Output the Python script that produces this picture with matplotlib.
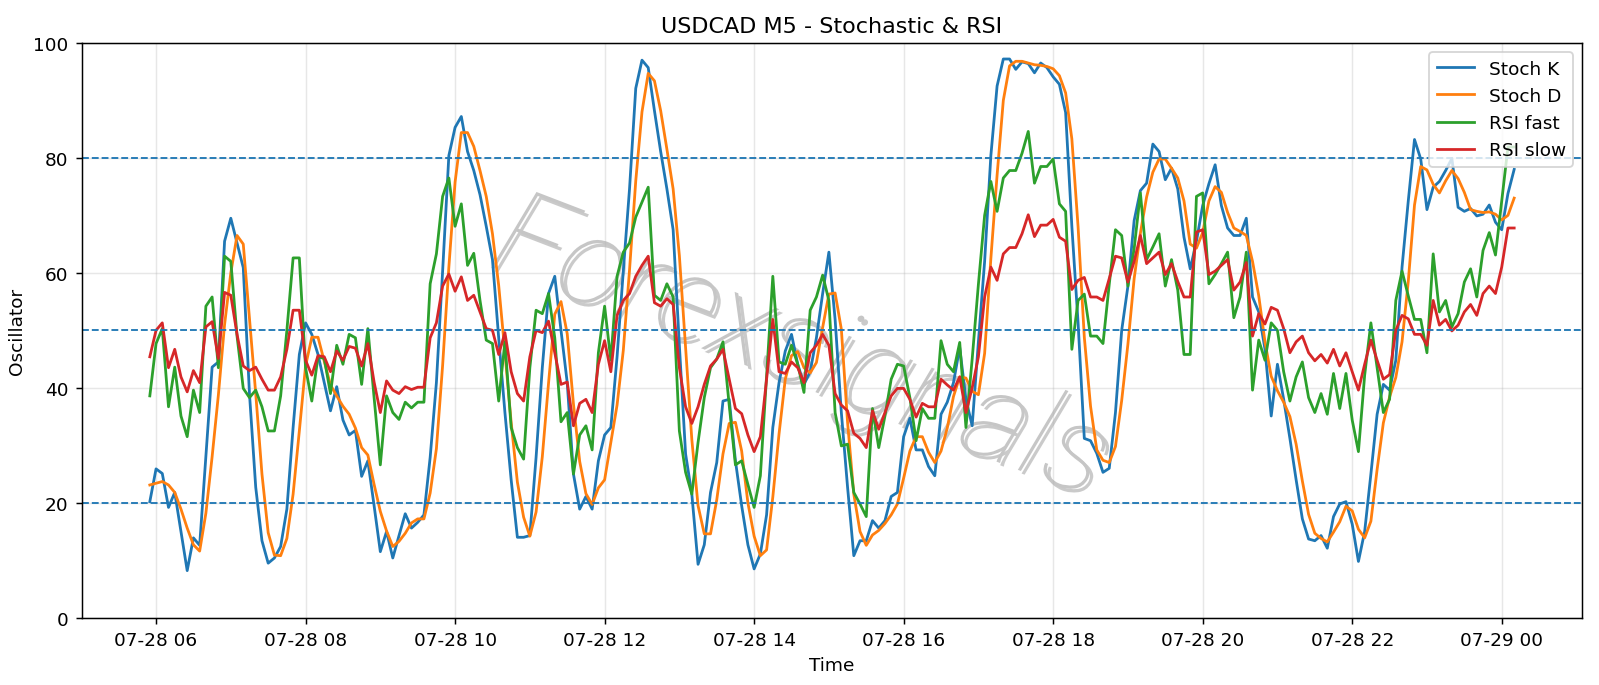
import matplotlib
matplotlib.use("Agg")
import matplotlib.pyplot as plt
import matplotlib.dates as mdates
import matplotlib.patheffects as pe
import pandas as pd

# 5 minute bars, 07-28 05:55 -> 07-29 00:10
times = pd.date_range("2025-07-28 05:55", periods=220, freq="5min")

stoch_k = [
    20.2, 25.9, 25.1, 19.2, 21.8, 15.0, 8.2, 13.9, 12.6, 28.0, 43.6, 44.5, 65.5, 69.5, 65.2, 60.9, 38.9, 22.7,
    13.4, 9.5, 10.4, 12.4, 18.9, 33.1, 45.8, 51.3, 49.3, 45.8, 40.9, 36.0, 40.2, 34.4, 31.8, 32.6, 24.6, 27.3,
    19.5, 11.5, 15.0, 10.4, 14.3, 18.1, 15.6, 16.6, 17.9, 27.9, 40.9, 60.3, 80.4, 85.3, 87.2, 81.1, 77.8, 73.6,
    68.1, 62.3, 48.7, 35.7, 24.0, 14.0, 14.0, 14.3, 27.9, 43.5, 56.4, 59.4, 50.0, 40.9, 25.0, 18.9, 21.1, 18.9, 27.3,
    31.8, 33.1, 45.4, 60.3, 74.6, 92.1, 97.0, 95.7, 88.2, 81.1, 74.6, 67.5, 47.4, 28.5, 21.5, 9.3, 12.7, 21.8,
    27.0, 37.7, 38.0, 27.3, 19.5, 12.7, 8.5, 11.1, 17.9, 33.1, 40.9, 46.4, 49.3, 44.1, 40.6, 42.8, 48.7, 56.4, 63.6,
    51.9, 35.7, 22.7, 10.8, 13.4, 13.4, 16.9, 15.6, 16.9, 21.1, 21.8, 31.5, 34.7, 29.2, 29.2, 26.3, 24.7, 35.4,
    37.5, 40.9, 47.0, 38.0, 33.4, 48.0, 62.0, 80.4, 92.5, 97.2, 97.2, 95.4, 96.7, 96.4, 94.8, 96.5, 95.7, 94.1, 92.8,
    87.9, 68.1, 51.3, 31.2, 30.8, 28.6, 25.3, 26.0, 35.7, 50.0, 57.7, 69.1, 74.3, 75.6, 82.4, 81.1, 76.2, 78.2,
    74.6, 66.2, 60.7, 65.5, 71.7, 75.5, 78.8, 71.7, 67.8, 66.5, 66.5, 69.5, 55.8, 53.2, 46.7, 35.1, 44.1, 38.0, 31.2,
    24.0, 17.2, 13.7, 13.4, 14.3, 12.1, 17.6, 19.8, 20.2, 16.3, 9.8, 15.0, 25.0, 35.4, 40.6, 39.6, 44.8, 61.0,
    72.5, 83.2, 79.8, 71.0, 74.9, 75.9, 77.8, 79.9, 71.4, 70.7, 71.2, 69.9, 70.2, 71.8, 68.8, 67.5, 73.8, 78.0,
]

stoch_d = [
    23.1, 23.4, 23.7, 23.1, 21.8, 18.9, 15.6, 12.7, 11.6, 18.2, 28.0, 38.7, 51.0, 60.0, 66.5, 65.0, 52.0, 39.0,
    25.0, 14.8, 10.9, 10.8, 13.8, 21.5, 32.5, 43.8, 48.8, 48.8, 44.6, 40.5, 38.6, 36.8, 35.4, 33.0, 29.6, 28.3,
    23.2, 18.5, 15.1, 12.4, 13.3, 14.7, 16.5, 17.2, 17.2, 21.7, 29.4, 43.9, 61.0, 75.8, 84.4, 84.4, 82.0, 77.8,
    73.3, 66.8, 57.8, 46.2, 34.0, 23.6, 17.5, 14.2, 18.4, 28.0, 40.8, 52.8, 55.0, 49.4, 37.2, 27.2, 21.6, 19.7, 22.6,
    24.0, 30.5, 37.0, 46.5, 60.5, 76.0, 88.0, 94.7, 93.4, 88.2, 81.5, 74.6, 63.0, 47.0, 31.0, 19.5, 14.6, 14.6,
    20.5, 28.5, 33.8, 34.0, 29.0, 20.0, 14.2, 10.8, 11.8, 21.0, 32.0, 41.5, 45.6, 46.3, 43.5, 42.6, 44.4, 50.5, 56.3,
    56.5, 50.2, 34.0, 21.5, 15.0, 12.6, 14.4, 15.2, 16.4, 17.9, 19.8, 24.3, 29.0, 31.5, 31.5, 28.8, 27.0, 29.0,
    33.0, 38.5, 41.9, 41.7, 39.4, 38.8, 46.0, 62.5, 77.0, 90.0, 96.0, 96.8, 96.8, 96.5, 96.2, 96.1, 95.9, 95.5, 94.3,
    91.3, 83.3, 68.0, 48.8, 36.8, 29.2, 27.4, 27.0, 29.8, 37.8, 47.6, 59.0, 66.9, 73.2, 77.5, 79.8, 79.8, 78.2,
    76.5, 72.5, 65.0, 64.3, 67.0, 72.5, 75.0, 74.0, 70.5, 67.8, 67.2, 66.5, 62.0, 56.0, 48.0, 42.0, 39.5, 37.5, 35.0,
    30.2, 23.8, 18.0, 14.7, 13.8, 13.2, 14.9, 16.7, 19.4, 18.6, 15.4, 13.9, 16.8, 25.8, 33.9, 38.4, 41.8, 48.0,
    58.5, 71.8, 78.5, 77.9, 75.4, 73.9, 76.0, 77.8, 76.4, 74.0, 71.0, 70.7, 70.5, 70.6, 70.2, 69.2, 70.0, 73.0,
]

rsi_fast = [
    38.6, 47.7, 50.3, 36.7, 43.6, 35.1, 31.5, 39.6, 35.7, 54.2, 55.8, 43.5, 62.9, 62.0, 49.0, 39.9, 38.3, 39.6,
    36.7, 32.5, 32.5, 38.6, 50.0, 62.6, 62.6, 43.5, 37.7, 45.4, 45.1, 39.0, 47.4, 44.1, 49.3, 48.7, 40.6, 50.3,
    38.3, 26.6, 38.6, 35.7, 34.5, 37.5, 36.5, 37.5, 37.5, 58.1, 63.3, 73.3, 76.5, 68.1, 72.0, 61.3, 63.4, 55.2,
    48.3, 47.7, 37.7, 48.0, 33.1, 29.6, 27.6, 43.5, 53.5, 52.9, 56.4, 48.7, 34.1, 35.7, 25.0, 31.8, 33.4, 29.2, 46.1,
    54.2, 44.8, 59.4, 63.6, 65.2, 69.7, 72.3, 74.9, 56.1, 55.2, 58.1, 55.8, 32.5, 25.3, 21.5, 30.5, 38.3, 43.5,
    45.0, 48.0, 37.0, 26.6, 27.3, 23.2, 19.2, 24.7, 42.0, 59.4, 44.5, 44.1, 47.4, 44.1, 39.2, 53.5, 55.8, 59.6, 55.2,
    35.7, 29.9, 30.2, 21.8, 19.8, 17.6, 36.4, 29.6, 35.1, 41.5, 44.1, 43.8, 38.3, 30.8, 36.4, 34.7, 34.7, 48.2,
    44.1, 42.8, 47.9, 33.1, 45.0, 58.0, 70.0, 75.9, 70.7, 76.5, 77.8, 77.8, 80.8, 84.6, 75.6, 78.5, 78.5, 79.8, 72.0,
    70.7, 46.7, 55.2, 56.3, 49.0, 49.0, 47.7, 58.0, 67.5, 66.5, 57.7, 64.2, 73.9, 62.3, 64.5, 66.8, 57.7, 62.3,
    57.0, 45.8, 45.8, 73.3, 73.9, 58.1, 59.7, 61.6, 63.6, 52.2, 55.8, 63.6, 39.6, 48.3, 44.8, 51.3, 50.0, 42.8, 37.7,
    41.9, 44.5, 38.3, 35.7, 39.0, 35.4, 42.5, 36.4, 42.5, 34.4, 28.9, 42.2, 51.3, 43.5, 35.7, 38.0, 55.2, 60.3,
    56.0, 51.9, 51.9, 46.1, 63.3, 53.2, 55.2, 50.6, 52.9, 58.4, 60.7, 55.8, 63.9, 67.0, 63.1, 72.5, 81.9, 81.9,
]

rsi_slow = [
    45.4, 50.0, 51.3, 43.5, 46.7, 41.9, 39.3, 43.0, 40.9, 50.6, 51.5, 45.1, 56.6, 56.1, 49.3, 43.8, 43.0, 43.6,
    41.5, 39.6, 39.6, 41.9, 46.7, 53.5, 53.5, 44.8, 42.2, 45.6, 45.4, 42.8, 46.4, 44.8, 47.2, 46.9, 43.8, 47.7,
    41.0, 35.7, 41.2, 39.6, 39.0, 40.2, 39.7, 40.1, 40.1, 48.7, 51.3, 57.7, 59.8, 56.8, 59.3, 55.2, 56.1, 53.2,
    50.3, 50.0, 45.8, 49.6, 42.8, 39.0, 37.7, 45.4, 50.0, 49.6, 51.6, 46.1, 40.6, 41.0, 33.4, 37.3, 38.0, 35.7, 44.1,
    48.2, 42.8, 52.6, 55.2, 56.4, 59.4, 61.3, 62.9, 54.8, 54.2, 55.5, 54.5, 43.5, 36.7, 33.8, 36.7, 40.6, 43.8,
    45.0, 46.7, 41.5, 36.4, 35.5, 31.8, 28.9, 31.5, 41.5, 51.9, 42.8, 42.5, 44.5, 43.5, 40.9, 46.1, 47.4, 49.3, 47.4,
    39.0, 37.0, 36.0, 32.1, 31.2, 29.6, 36.0, 32.8, 35.7, 38.6, 39.9, 39.9, 38.0, 34.9, 37.3, 36.7, 36.7, 41.5,
    40.5, 39.6, 41.9, 35.7, 40.0, 45.4, 55.8, 61.0, 58.7, 63.3, 64.4, 64.4, 66.8, 70.1, 66.3, 68.3, 68.3, 69.3, 66.2,
    65.5, 57.1, 58.7, 59.2, 55.8, 55.8, 55.2, 59.0, 62.9, 62.6, 58.4, 62.0, 66.5, 61.6, 62.6, 63.6, 59.7, 61.6,
    58.5, 55.8, 55.8, 67.1, 67.5, 59.7, 60.3, 61.3, 62.3, 57.0, 58.4, 61.8, 49.0, 52.9, 51.1, 54.0, 53.5, 50.3, 46.1,
    48.0, 49.0, 46.1, 44.7, 45.8, 44.3, 46.7, 43.8, 46.1, 42.8, 39.6, 44.1, 48.3, 44.8, 41.5, 42.3, 50.0, 52.6,
    52.0, 49.3, 49.3, 47.4, 55.2, 50.9, 51.9, 49.9, 50.9, 53.2, 54.5, 52.6, 56.4, 57.7, 56.4, 61.0, 67.8, 67.8,
]

levels = [80, 50, 20]

fig = plt.figure(figsize=(12, 5.145), dpi=133.333)
ax = fig.add_subplot(1, 1, 1)

ax.plot(times, stoch_k, label="Stoch K")
ax.plot(times, stoch_d, label="Stoch D")
ax.plot(times, rsi_fast, label="RSI fast")
ax.plot(times, rsi_slow, label="RSI slow")
for lv in levels:
    ax.axhline(lv, linestyle="--", linewidth=1, color="tab:blue")

ax.set_ylim(0, 100)
ax.set_title("USDCAD M5 - Stochastic & RSI")
ax.set_xlabel("Time")
ax.set_ylabel("Oscillator")
ax.grid(True, alpha=0.3)
ax.xaxis.set_major_locator(mdates.HourLocator(interval=2))
ax.xaxis.set_major_formatter(mdates.DateFormatter("%m-%d %H"))
ax.legend(loc="upper right")

# watermark: thin light grey letters with a soft shadow, under the lines
ax.text(0.479, 0.464, "Forexsignals", transform=ax.transAxes, fontsize=66,
        family=["Roboto", "DejaVu Sans"], fontweight=100, style="italic",
        color="#c6c6c6", rotation=-21, ha="center", va="center", zorder=1,
        path_effects=[pe.SimplePatchShadow(offset=(2, -2), shadow_rgbFace="#a8a8a8", alpha=0.6),
                      pe.Normal()])

fig.subplots_adjust(left=0.051, right=0.989, top=0.936, bottom=0.098)
fig.savefig("out.png", dpi=fig.dpi)
